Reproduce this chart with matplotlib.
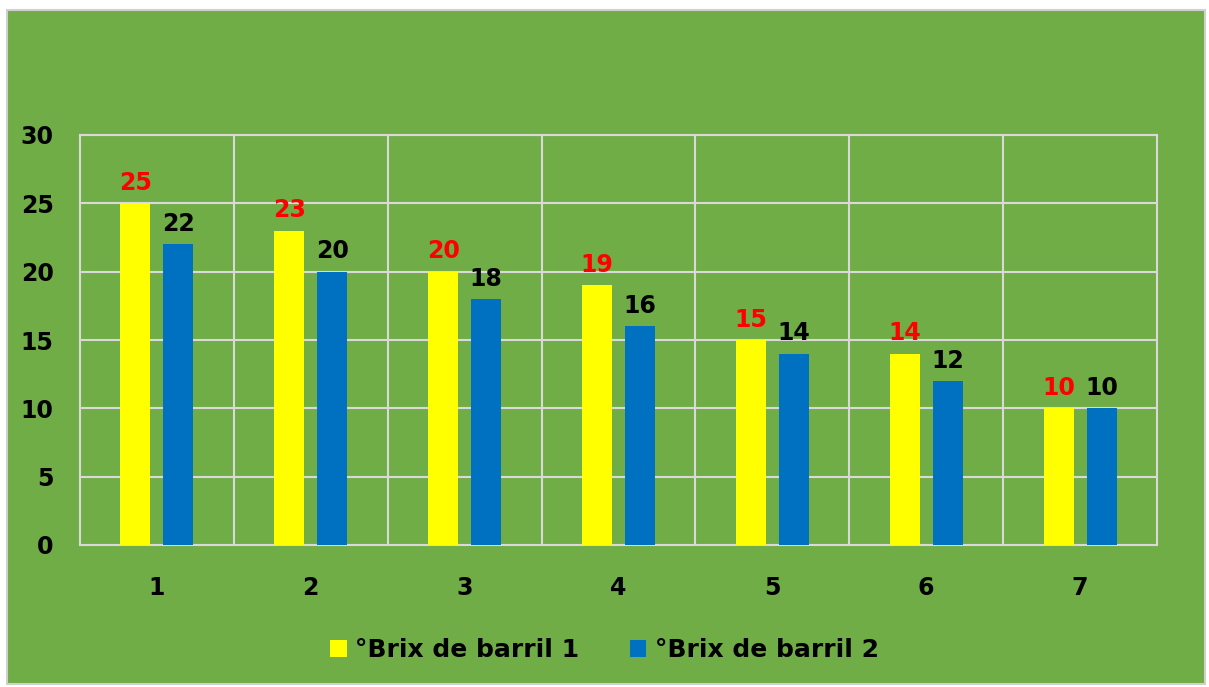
import matplotlib.pyplot as plt
import numpy as np
from matplotlib.patches import Rectangle

categories = ["1", "2", "3", "4", "5", "6", "7"]
barril_1 = [25, 23, 20, 19, 15, 14, 10]
barril_2 = [22, 20, 18, 16, 14, 12, 10]
series_names = ["°Brix de barril 1", "°Brix de barril 2"]
yticks = [0, 5, 10, 15, 20, 25, 30]

GREEN = "#70AD47"
YELLOW = "#FFFF00"
BLUE = "#0070C0"
GRID = "#D9D9D9"

plt.rcParams["font.family"] = ["DejaVu Sans"]
plt.rcParams["font.weight"] = "bold"

fig = plt.figure(figsize=(12.09, 6.87), dpi=100)
fig.patch.set_facecolor("white")
fig.patches.append(Rectangle((7 / 1209, 3 / 687), 1198 / 1209, 674 / 687,
                             transform=fig.transFigure, facecolor=GREEN,
                             edgecolor="#D0D0D0", linewidth=1.5, zorder=-10))

ax = fig.add_axes([80 / 1209, 1 - 545 / 687, 1077 / 1209, 410 / 687])
ax.set_facecolor("none")
ax.set_zorder(1)

x = np.arange(len(categories))
width = 0.195
off = 0.14
b1 = ax.bar(x - off, barril_1, width, color=YELLOW, label=series_names[0], zorder=3)
b2 = ax.bar(x + off, barril_2, width, color=BLUE, label=series_names[1], zorder=3)

for rect, v in zip(b1, barril_1):
    ax.annotate(str(v), (rect.get_x() + rect.get_width() / 2, v), xytext=(0, 6),
                textcoords="offset points", ha="center", va="bottom",
                color="#FF0000", fontsize=17, fontweight="bold")
for rect, v in zip(b2, barril_2):
    ax.annotate(str(v), (rect.get_x() + rect.get_width() / 2, v), xytext=(0, 6),
                textcoords="offset points", ha="center", va="bottom",
                color="black", fontsize=17, fontweight="bold")

ax.set_xlim(-0.5, len(categories) - 0.5)
ax.set_ylim(0, 30)
ax.set_yticks(yticks)
ax.set_yticklabels([str(t) for t in yticks], fontsize=17, fontweight="bold")
ax.set_xticks(x)
ax.set_xticklabels(categories, fontsize=17, fontweight="bold")
ax.tick_params(length=0)
ax.tick_params(axis="y", pad=19)
ax.tick_params(axis="x", pad=22)

for t in yticks[1:]:
    ax.axhline(t, color=GRID, linewidth=1.5, zorder=1)
for b in np.arange(0.5, len(categories) - 0.5, 1):
    ax.axvline(b, color=GRID, linewidth=1.5, zorder=1)
for side in ["top", "right", "left", "bottom"]:
    ax.spines[side].set_color(GRID)
    ax.spines[side].set_linewidth(1.5)

leg = fig.legend(loc="center", bbox_to_anchor=(0.5, 1 - 650 / 687), ncol=2,
                 frameon=False, fontsize=18, handlelength=0.65, handleheight=0.65,
                 handletextpad=0.35, columnspacing=2.0)
for t in leg.get_texts():
    t.set_fontweight("bold")

fig.savefig("out.png", dpi=100)
